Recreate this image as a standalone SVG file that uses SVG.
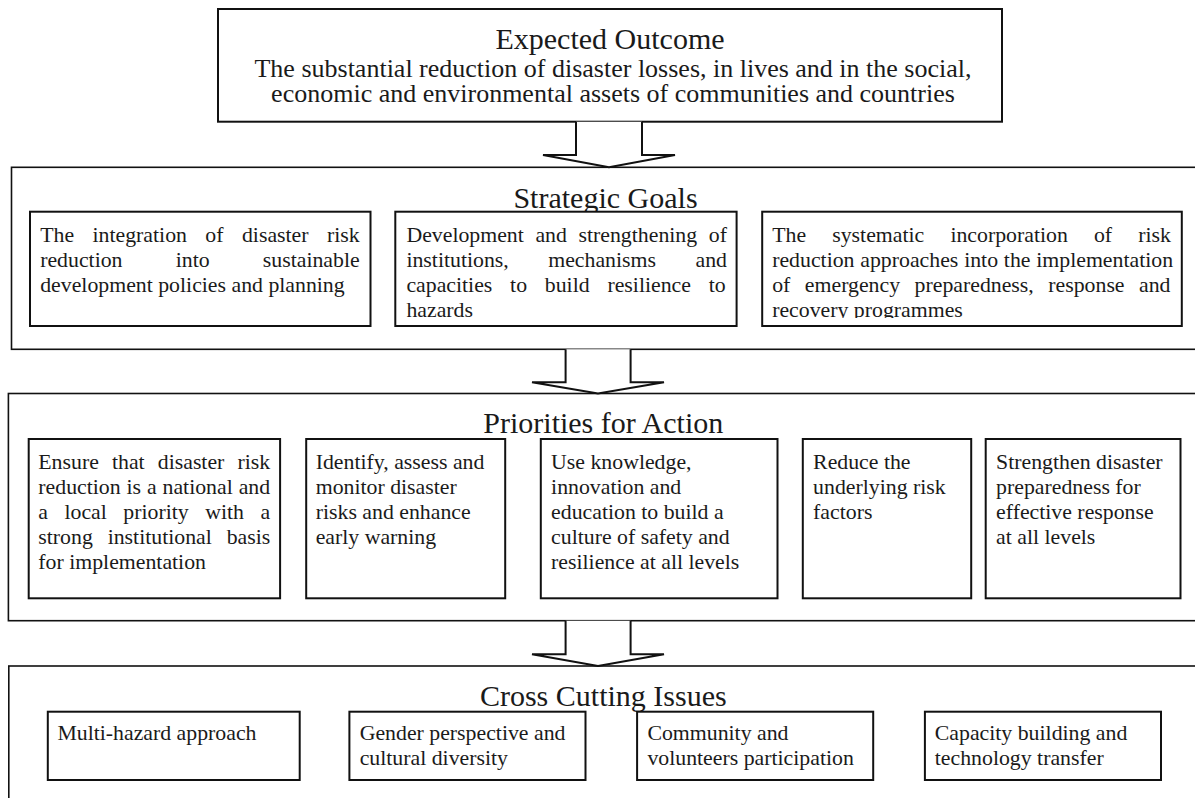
<svg xmlns="http://www.w3.org/2000/svg" width="1195" height="798" viewBox="0 0 1195 798">
<style>
.outer{fill:none;stroke:#111;stroke-width:1.6}
.box{fill:#fff;stroke:#111;stroke-width:2}
.arrow{fill:#fff;stroke:#111;stroke-width:2;stroke-linejoin:miter}
text{font-family:"Liberation Serif","Times New Roman",serif;fill:#1a1a1a}
.title{font-size:30px;text-anchor:middle}
.lead{font-size:26px;text-anchor:middle}
.b{font-size:21.8px}
</style>
<defs>
<clipPath id="sgclip"><rect x="0" y="212" width="1195" height="106"/></clipPath>
</defs>
<rect x="0" y="0" width="1195" height="798" fill="#fff"/>

<g id="expected-outcome">
<rect class="box" x="218" y="9" width="784" height="112.7"/>
<text class="title" x="610" y="49.3">Expected Outcome</text>
<text class="lead" x="613" y="77.3">The substantial reduction of disaster losses, in lives and in the social,</text>
<text class="lead" x="613" y="101.7">economic and environmental assets of communities and countries</text>
</g>

<g id="strategic-goals">
<rect class="outer" x="11.5" y="167.3" width="1200" height="182"/>
<text class="title" x="605.5" y="208.3">Strategic Goals</text>
<g id="sg-1">
<rect class="box" x="30" y="211.7" width="340.5" height="114.3"/>
<g clip-path="url(#sgclip)">
<text class="b" x="40.2" y="241.7" word-spacing="12.98">The integration of disaster risk</text>
<text class="b" x="40.2" y="266.7" word-spacing="47.75">reduction into sustainable</text>
<text class="b" x="40.2" y="291.7">development policies and planning</text>
</g>
</g>
<g id="sg-2">
<rect class="box" x="395.3" y="211.7" width="341.3" height="114.3"/>
<g clip-path="url(#sgclip)">
<text class="b" x="406.4" y="241.7" word-spacing="6.15">Development and strengthening of</text>
<text class="b" x="406.4" y="266.7" word-spacing="34.05">institutions, mechanisms and</text>
<text class="b" x="406.4" y="291.7" word-spacing="12.33">capacities to build resilience to</text>
<text class="b" x="406.4" y="316.7">hazards</text>
</g>
</g>
<g id="sg-3">
<rect class="box" x="762.2" y="211.7" width="419.6" height="114.3"/>
<g clip-path="url(#sgclip)">
<text class="b" x="772.2" y="241.7" word-spacing="20.7">The systematic incorporation of risk</text>
<text class="b" x="772.2" y="266.7" word-spacing="0.35">reduction approaches into the implementation</text>
<text class="b" x="772.2" y="291.7" word-spacing="9.05">of emergency preparedness, response and</text>
<text class="b" x="772.2" y="316.7">recovery programmes</text>
</g>
</g>
</g>

<g id="priorities-for-action">
<rect class="outer" x="8.4" y="393.5" width="1200" height="227.2"/>
<text class="title" x="603.3" y="433.3">Priorities for Action</text>
<g id="pfa-1">
<rect class="box" x="28.7" y="439" width="251.4" height="159.3"/>
<text class="b" x="38.3" y="469.3" word-spacing="7.68">Ensure that disaster risk</text>
<text class="b" x="38.3" y="494.3" word-spacing="0.45">reduction is a national and</text>
<text class="b" x="38.3" y="519.3" word-spacing="11.05">a local priority with a</text>
<text class="b" x="38.3" y="544.3" word-spacing="9.4">strong institutional basis</text>
<text class="b" x="38.3" y="569.3">for implementation</text>
</g>
<g id="pfa-2">
<rect class="box" x="306.2" y="439" width="199" height="159.3"/>
<text class="b" x="315.7" y="469.3">Identify, assess and</text>
<text class="b" x="315.7" y="494.3">monitor disaster</text>
<text class="b" x="315.7" y="519.3">risks and enhance</text>
<text class="b" x="315.7" y="544.3">early warning</text>
</g>
<g id="pfa-3">
<rect class="box" x="540.8" y="439" width="236.7" height="159.3"/>
<text class="b" x="551.1" y="469.3">Use knowledge,</text>
<text class="b" x="551.1" y="494.3">innovation and</text>
<text class="b" x="551.1" y="519.3">education to build a</text>
<text class="b" x="551.1" y="544.3">culture of safety and</text>
<text class="b" x="551.1" y="569.3">resilience at all levels</text>
</g>
<g id="pfa-4">
<rect class="box" x="802.8" y="439" width="168.4" height="159.3"/>
<text class="b" x="813.1" y="469.3">Reduce the</text>
<text class="b" x="813.1" y="494.3">underlying risk</text>
<text class="b" x="813.1" y="519.3">factors</text>
</g>
<g id="pfa-5">
<rect class="box" x="985.7" y="439" width="194.8" height="159.3"/>
<text class="b" x="996.1" y="469.3">Strengthen disaster</text>
<text class="b" x="996.1" y="494.3">preparedness for</text>
<text class="b" x="996.1" y="519.3">effective response</text>
<text class="b" x="996.1" y="544.3">at all levels</text>
</g>
</g>

<g id="cross-cutting-issues">
<rect class="outer" x="8.8" y="666" width="1200" height="160"/>
<text class="title" x="603.3" y="706">Cross Cutting Issues</text>
<g id="cci-1">
<rect class="box" x="47.8" y="711.7" width="251.9" height="68.3"/>
<text class="b" x="57.4" y="740">Multi-hazard approach</text>
</g>
<g id="cci-2">
<rect class="box" x="349.4" y="711.7" width="236.1" height="68.3"/>
<text class="b" x="359.7" y="740">Gender perspective and</text>
<text class="b" x="359.7" y="765">cultural diversity</text>
</g>
<g id="cci-3">
<rect class="box" x="637.1" y="711.7" width="236.1" height="68.3"/>
<text class="b" x="647.4" y="740">Community and</text>
<text class="b" x="647.4" y="765">volunteers participation</text>
</g>
<g id="cci-4">
<rect class="box" x="924.9" y="711.7" width="236.1" height="68.3"/>
<text class="b" x="934.8" y="740">Capacity building and</text>
<text class="b" x="934.8" y="765">technology transfer</text>
</g>
</g>

<g id="connectors">
<path class="arrow" d="M576,121.7 V155 H543 L609,167.3 L675,155 H642 V121.7"/>
<path class="arrow" d="M565.6,349.3 V382.3 H532 L598,393.5 L664,382.3 H630.6 V349.3"/>
<path class="arrow" d="M565.6,620.7 V654.3 H532 L598,666 L664,654.3 H630.6 V620.7"/>
</g>
</svg>
